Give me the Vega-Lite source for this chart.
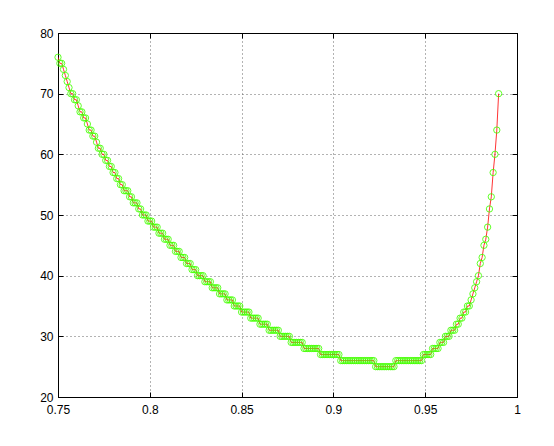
{
  "$schema": "https://vega.github.io/schema/vega-lite/v6.json",
  "width": 459,
  "height": 364,
  "autosize": "none",
  "padding": {"left": 58, "top": 33, "right": 37, "bottom": 49},
  "background": "white",
  "config": {
    "view": {"stroke": "black", "strokeWidth": 1},
    "font": "Liberation Sans",
    "axis": {
      "labelFont": "Liberation Sans",
      "labelFontSize": 12,
      "labelColor": "black",
      "labelFlush": false,
      "labelOverlap": false,
      "domainColor": "black",
      "tickColor": "black",
      "gridColor": "#666666",
      "gridDash": [1, 3],
      "gridWidth": 1,
      "tickSize": -5,
      "title": null
    }
  },
  "data": {"values": [
    {"x":0.750,"y":76},{"x":0.751,"y":75},{"x":0.752,"y":75},{"x":0.753,"y":74},{"x":0.754,"y":73},{"x":0.755,"y":72},{"x":0.756,"y":71},{"x":0.757,"y":70},{"x":0.758,"y":70},{"x":0.759,"y":69},
    {"x":0.760,"y":69},{"x":0.761,"y":68},{"x":0.762,"y":67},{"x":0.763,"y":67},{"x":0.764,"y":66},{"x":0.765,"y":66},{"x":0.766,"y":65},{"x":0.767,"y":64},{"x":0.768,"y":64},{"x":0.769,"y":63},
    {"x":0.770,"y":63},{"x":0.771,"y":62},{"x":0.772,"y":61},{"x":0.773,"y":61},{"x":0.774,"y":60},{"x":0.775,"y":60},{"x":0.776,"y":59},{"x":0.777,"y":59},{"x":0.778,"y":58},{"x":0.779,"y":58},
    {"x":0.780,"y":57},{"x":0.781,"y":57},{"x":0.782,"y":56},{"x":0.783,"y":56},{"x":0.784,"y":55},{"x":0.785,"y":55},{"x":0.786,"y":54},{"x":0.787,"y":54},{"x":0.788,"y":54},{"x":0.789,"y":53},
    {"x":0.790,"y":53},{"x":0.791,"y":52},{"x":0.792,"y":52},{"x":0.793,"y":52},{"x":0.794,"y":51},{"x":0.795,"y":51},{"x":0.796,"y":50},{"x":0.797,"y":50},{"x":0.798,"y":50},{"x":0.799,"y":49},
    {"x":0.800,"y":49},{"x":0.801,"y":49},{"x":0.802,"y":48},{"x":0.803,"y":48},{"x":0.804,"y":48},{"x":0.805,"y":47},{"x":0.806,"y":47},{"x":0.807,"y":47},{"x":0.808,"y":46},{"x":0.809,"y":46},
    {"x":0.810,"y":46},{"x":0.811,"y":45},{"x":0.812,"y":45},{"x":0.813,"y":45},{"x":0.814,"y":44},{"x":0.815,"y":44},{"x":0.816,"y":44},{"x":0.817,"y":43},{"x":0.818,"y":43},{"x":0.819,"y":43},
    {"x":0.820,"y":42},{"x":0.821,"y":42},{"x":0.822,"y":42},{"x":0.823,"y":41},{"x":0.824,"y":41},{"x":0.825,"y":41},{"x":0.826,"y":40},{"x":0.827,"y":40},{"x":0.828,"y":40},{"x":0.829,"y":40},
    {"x":0.830,"y":39},{"x":0.831,"y":39},{"x":0.832,"y":39},{"x":0.833,"y":39},{"x":0.834,"y":38},{"x":0.835,"y":38},{"x":0.836,"y":38},{"x":0.837,"y":38},{"x":0.838,"y":37},{"x":0.839,"y":37},
    {"x":0.840,"y":37},{"x":0.841,"y":37},{"x":0.842,"y":36},{"x":0.843,"y":36},{"x":0.844,"y":36},{"x":0.845,"y":36},{"x":0.846,"y":35},{"x":0.847,"y":35},{"x":0.848,"y":35},{"x":0.849,"y":35},
    {"x":0.850,"y":34},{"x":0.851,"y":34},{"x":0.852,"y":34},{"x":0.853,"y":34},{"x":0.854,"y":34},{"x":0.855,"y":33},{"x":0.856,"y":33},{"x":0.857,"y":33},{"x":0.858,"y":33},{"x":0.859,"y":33},
    {"x":0.860,"y":32},{"x":0.861,"y":32},{"x":0.862,"y":32},{"x":0.863,"y":32},{"x":0.864,"y":32},{"x":0.865,"y":31},{"x":0.866,"y":31},{"x":0.867,"y":31},{"x":0.868,"y":31},{"x":0.869,"y":31},
    {"x":0.870,"y":31},{"x":0.871,"y":30},{"x":0.872,"y":30},{"x":0.873,"y":30},{"x":0.874,"y":30},{"x":0.875,"y":30},{"x":0.876,"y":30},{"x":0.877,"y":29},{"x":0.878,"y":29},{"x":0.879,"y":29},
    {"x":0.880,"y":29},{"x":0.881,"y":29},{"x":0.882,"y":29},{"x":0.883,"y":29},{"x":0.884,"y":28},{"x":0.885,"y":28},{"x":0.886,"y":28},{"x":0.887,"y":28},{"x":0.888,"y":28},{"x":0.889,"y":28},
    {"x":0.890,"y":28},{"x":0.891,"y":28},{"x":0.892,"y":28},{"x":0.893,"y":27},{"x":0.894,"y":27},{"x":0.895,"y":27},{"x":0.896,"y":27},{"x":0.897,"y":27},{"x":0.898,"y":27},{"x":0.899,"y":27},
    {"x":0.900,"y":27},{"x":0.901,"y":27},{"x":0.902,"y":27},{"x":0.903,"y":27},{"x":0.904,"y":26},{"x":0.905,"y":26},{"x":0.906,"y":26},{"x":0.907,"y":26},{"x":0.908,"y":26},{"x":0.909,"y":26},
    {"x":0.910,"y":26},{"x":0.911,"y":26},{"x":0.912,"y":26},{"x":0.913,"y":26},{"x":0.914,"y":26},{"x":0.915,"y":26},{"x":0.916,"y":26},{"x":0.917,"y":26},{"x":0.918,"y":26},{"x":0.919,"y":26},
    {"x":0.920,"y":26},{"x":0.921,"y":26},{"x":0.922,"y":26},{"x":0.923,"y":25},{"x":0.924,"y":25},{"x":0.925,"y":25},{"x":0.926,"y":25},{"x":0.927,"y":25},{"x":0.928,"y":25},{"x":0.929,"y":25},
    {"x":0.930,"y":25},{"x":0.931,"y":25},{"x":0.932,"y":25},{"x":0.933,"y":25},{"x":0.934,"y":26},{"x":0.935,"y":26},{"x":0.936,"y":26},{"x":0.937,"y":26},{"x":0.938,"y":26},{"x":0.939,"y":26},
    {"x":0.940,"y":26},{"x":0.941,"y":26},{"x":0.942,"y":26},{"x":0.943,"y":26},{"x":0.944,"y":26},{"x":0.945,"y":26},{"x":0.946,"y":26},{"x":0.947,"y":26},{"x":0.948,"y":26},{"x":0.949,"y":27},
    {"x":0.950,"y":27},{"x":0.951,"y":27},{"x":0.952,"y":27},{"x":0.953,"y":27},{"x":0.954,"y":28},{"x":0.955,"y":28},{"x":0.956,"y":28},{"x":0.957,"y":28},{"x":0.958,"y":29},{"x":0.959,"y":29},
    {"x":0.960,"y":29},{"x":0.961,"y":30},{"x":0.962,"y":30},{"x":0.963,"y":30},{"x":0.964,"y":31},{"x":0.965,"y":31},{"x":0.966,"y":31},{"x":0.967,"y":32},{"x":0.968,"y":32},{"x":0.969,"y":33},
    {"x":0.970,"y":33},{"x":0.971,"y":34},{"x":0.972,"y":34},{"x":0.973,"y":35},{"x":0.974,"y":35},{"x":0.975,"y":36},{"x":0.976,"y":37},{"x":0.977,"y":38},{"x":0.978,"y":39},{"x":0.979,"y":40},
    {"x":0.980,"y":42},{"x":0.981,"y":43},{"x":0.982,"y":45},{"x":0.983,"y":46},{"x":0.984,"y":48},{"x":0.985,"y":51},{"x":0.986,"y":53},{"x":0.987,"y":57},{"x":0.988,"y":60},{"x":0.989,"y":64},
    {"x":0.990,"y":70}
  ]},
  "encoding": {
    "x": {"field": "x", "type": "quantitative", "scale": {"domain": [0.75, 1], "nice": false, "zero": false}},
    "y": {"field": "y", "type": "quantitative", "scale": {"domain": [20, 80], "nice": false, "zero": false}}
  },
  "layer": [
    {
      "mark": {"type": "line", "color": "#ff0000", "strokeWidth": 0.8, "clip": true},
      "encoding": {
        "x": {"field": "x", "type": "quantitative", "axis": {"orient": "bottom", "values": [0.75, 0.8, 0.85, 0.9, 0.95, 1], "format": "~g", "grid": true, "labelPadding": 12, "domain": true}},
        "y": {"field": "y", "type": "quantitative", "axis": {"orient": "left", "values": [20, 30, 40, 50, 60, 70, 80], "format": "d", "grid": true, "labelPadding": 10, "domain": true}}
      }
    },
    {
      "mark": {"type": "point", "shape": "circle", "filled": false, "color": "#44ff00", "opacity": 0.85, "size": 40, "strokeWidth": 1, "clip": false},
      "encoding": {
        "x": {"field": "x", "type": "quantitative", "axis": {"orient": "top", "values": [0.75, 0.8, 0.85, 0.9, 0.95, 1], "labels": false, "grid": false, "domain": true}},
        "y": {"field": "y", "type": "quantitative", "axis": {"orient": "right", "values": [20, 30, 40, 50, 60, 70, 80], "labels": false, "grid": false, "domain": true}}
      }
    }
  ],
  "resolve": {"axis": {"x": "independent", "y": "independent"}}
}
